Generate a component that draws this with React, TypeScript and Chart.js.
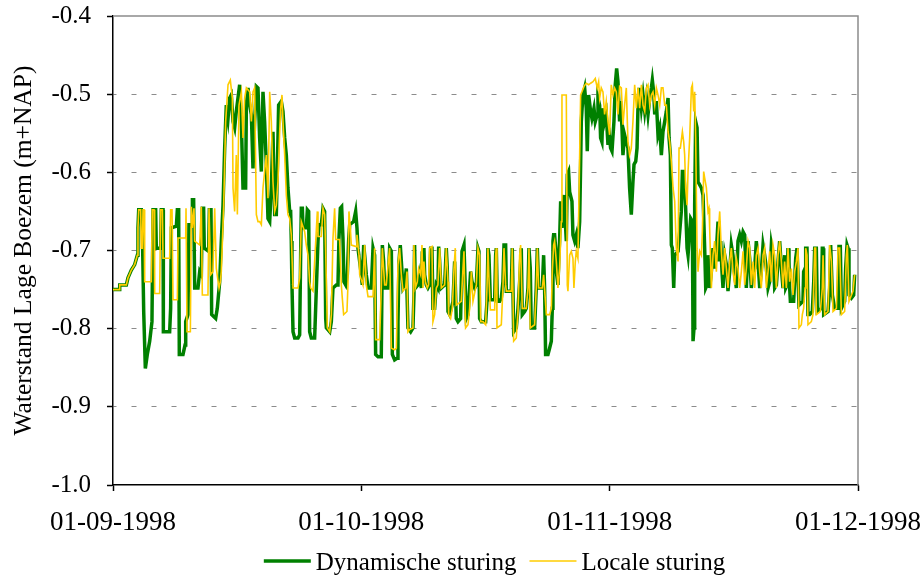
import { useEffect, useRef } from 'react';
import { Chart, registerables } from 'chart.js';

Chart.register(...registerables);

// x axis: days since 01-09-1998, axis runs to 01-12-1998 (day 91)
const xTickLabels = ['01-09-1998', '01-10-1998', '01-11-1998', '01-12-1998'];
const yAxisTitle = 'Waterstand Lage Boezem (m+NAP)';
const seriesNames = ['Dynamische sturing', 'Locale sturing'];

// [day, water level in m+NAP]
const dynamischeSturing: [number, number][] = [
  [0, -0.75], [0.82, -0.75], [0.82, -0.744], [1.63, -0.744], [1.83, -0.735], [2.24, -0.725], [2.65, -0.718], [2.97, -0.706],
  [3.05, -0.671], [3.14, -0.648], [3.46, -0.648], [3.58, -0.671], [3.75, -0.778], [3.95, -0.851], [4.19, -0.833], [4.48, -0.816],
  [4.76, -0.791], [4.89, -0.648], [5.21, -0.648], [5.29, -0.697], [5.82, -0.697], [5.9, -0.648], [6.11, -0.648], [6.15, -0.804],
  [6.92, -0.804], [7.04, -0.774], [7.13, -0.671], [7.74, -0.669], [7.86, -0.648], [8.02, -0.648], [8.1, -0.833], [8.55, -0.833],
  [8.8, -0.821], [8.88, -0.791], [9.16, -0.782], [9.28, -0.667], [9.69, -0.667], [9.7, -0.635], [9.85, -0.635], [9.98, -0.748],
  [10.38, -0.748], [10.59, -0.727], [10.79, -0.731], [10.91, -0.646], [11.07, -0.646], [11.15, -0.697], [11.68, -0.701], [11.77, -0.648],
  [11.97, -0.648], [12.05, -0.782], [12.54, -0.787], [12.74, -0.774], [13.03, -0.74], [13.23, -0.688], [13.44, -0.642], [13.64, -0.569],
  [13.84, -0.514], [14.05, -0.531], [14.25, -0.505], [14.45, -0.501], [14.66, -0.535], [14.86, -0.543], [15.06, -0.522], [15.47, -0.488],
  [15.68, -0.535], [15.88, -0.62], [16.2, -0.62], [16.29, -0.514], [16.49, -0.492], [16.69, -0.514], [16.9, -0.526], [17.1, -0.595],
  [17.3, -0.535], [17.51, -0.49], [17.71, -0.492], [17.91, -0.556], [18.12, -0.599], [18.32, -0.497], [18.52, -0.535], [18.73, -0.59],
  [18.93, -0.659], [19.14, -0.663], [19.34, -0.62], [19.54, -0.548], [19.75, -0.654], [19.95, -0.654], [20.07, -0.599], [20.23, -0.514],
  [20.56, -0.509], [20.76, -0.522], [20.97, -0.556], [21.17, -0.578], [21.37, -0.62], [21.58, -0.65], [21.7, -0.65], [21.78, -0.688],
  [21.86, -0.744], [21.99, -0.804], [22.19, -0.812], [22.6, -0.812], [22.8, -0.808], [22.92, -0.706], [23.0, -0.646], [23.13, -0.646],
  [23.21, -0.671], [23.61, -0.671], [23.74, -0.648], [23.9, -0.65], [24.02, -0.804], [24.22, -0.812], [24.63, -0.812], [24.84, -0.748],
  [25.04, -0.688], [25.16, -0.667], [25.45, -0.667], [25.65, -0.646], [25.85, -0.65], [25.98, -0.787], [26.06, -0.799], [26.47, -0.804],
  [26.67, -0.791], [26.87, -0.748], [27.28, -0.744], [27.48, -0.744], [27.6, -0.684], [27.77, -0.646], [27.93, -0.644], [28.09, -0.684],
  [28.21, -0.74], [28.42, -0.744], [28.62, -0.731], [28.78, -0.688], [28.91, -0.667], [29.39, -0.663], [29.64, -0.65], [29.8, -0.671],
  [29.92, -0.697], [30.13, -0.714], [30.33, -0.731], [30.45, -0.744], [30.62, -0.693], [30.74, -0.706], [30.94, -0.731], [31.15, -0.748],
  [31.55, -0.748], [31.76, -0.697], [31.96, -0.706], [32.08, -0.833], [32.37, -0.836], [32.77, -0.836], [32.9, -0.693], [33.06, -0.714],
  [33.18, -0.748], [33.59, -0.748], [33.79, -0.697], [34.0, -0.701], [34.12, -0.833], [34.4, -0.84], [34.69, -0.838], [34.81, -0.791],
  [34.93, -0.714], [35.09, -0.693], [35.3, -0.727], [35.42, -0.748], [35.62, -0.744], [35.83, -0.723], [36.03, -0.799], [36.36, -0.804],
  [36.64, -0.799], [36.76, -0.757], [36.84, -0.693], [36.93, -0.748], [37.25, -0.744], [37.46, -0.731], [37.66, -0.748], [37.78, -0.701],
  [37.86, -0.714], [37.98, -0.697], [38.07, -0.731], [38.27, -0.744], [38.47, -0.748], [38.68, -0.744], [38.8, -0.697], [38.96, -0.697],
  [39.08, -0.774], [39.29, -0.774], [39.49, -0.744], [39.69, -0.748], [39.78, -0.695], [39.9, -0.714], [40.02, -0.74], [40.1, -0.748],
  [40.51, -0.744], [40.71, -0.697], [40.83, -0.723], [40.92, -0.778], [41.12, -0.782], [41.32, -0.774], [41.53, -0.765], [41.73, -0.714],
  [41.85, -0.757], [41.93, -0.787], [42.14, -0.791], [42.46, -0.787], [42.63, -0.701], [42.87, -0.693], [43.03, -0.748], [43.16, -0.787],
  [43.36, -0.782], [43.56, -0.748], [43.68, -0.727], [43.85, -0.74], [44.17, -0.748], [44.38, -0.744], [44.58, -0.697], [44.7, -0.701],
  [44.78, -0.787], [44.99, -0.791], [45.52, -0.791], [45.68, -0.765], [45.8, -0.697], [45.92, -0.706], [46.09, -0.763], [46.62, -0.763],
  [46.74, -0.706], [46.82, -0.697], [46.94, -0.765], [47.23, -0.765], [47.43, -0.761], [47.63, -0.74], [47.76, -0.693], [47.96, -0.693],
  [48.04, -0.752], [48.65, -0.752], [48.77, -0.697], [48.94, -0.804], [49.26, -0.799], [49.47, -0.774], [49.67, -0.74], [49.87, -0.697],
  [49.99, -0.782], [50.28, -0.778], [50.48, -0.774], [50.69, -0.748], [50.81, -0.697], [50.97, -0.723], [51.09, -0.799], [51.5, -0.799],
  [51.7, -0.748], [51.83, -0.697], [51.99, -0.748], [52.44, -0.748], [52.6, -0.706], [52.72, -0.748], [52.84, -0.833], [53.13, -0.833],
  [53.33, -0.825], [53.54, -0.816], [53.66, -0.774], [53.74, -0.688], [53.82, -0.68], [53.94, -0.68], [54.07, -0.697], [54.15, -0.727],
  [54.35, -0.744], [54.47, -0.706], [54.55, -0.688], [54.68, -0.637], [54.76, -0.642], [54.84, -0.671], [54.96, -0.646], [55.08, -0.629],
  [55.25, -0.663], [55.37, -0.688], [55.49, -0.603], [55.65, -0.599], [55.78, -0.625], [56.06, -0.637], [56.18, -0.68], [56.39, -0.688],
  [56.59, -0.68], [56.79, -0.697], [57.0, -0.663], [57.12, -0.59], [57.2, -0.535], [57.4, -0.501], [57.61, -0.492], [57.81, -0.518],
  [57.93, -0.573], [58.1, -0.501], [58.34, -0.522], [58.5, -0.531], [58.75, -0.518], [58.91, -0.535], [59.15, -0.526], [59.24, -0.505],
  [59.44, -0.514], [59.56, -0.556], [59.72, -0.561], [59.85, -0.518], [60.05, -0.535], [60.25, -0.526], [60.46, -0.565], [60.54, -0.543],
  [60.78, -0.569], [60.95, -0.573], [61.19, -0.535], [61.35, -0.488], [61.52, -0.467], [61.68, -0.484], [61.88, -0.535], [62.0, -0.509],
  [62.17, -0.543], [62.29, -0.578], [62.49, -0.552], [62.7, -0.561], [62.9, -0.569], [63.1, -0.62], [63.31, -0.654], [63.51, -0.612],
  [63.64, -0.59], [63.85, -0.586], [64.01, -0.569], [64.13, -0.514], [64.25, -0.492], [64.42, -0.505], [64.54, -0.518], [64.74, -0.501],
  [64.95, -0.522], [65.15, -0.505], [65.35, -0.526], [65.56, -0.505], [65.76, -0.492], [65.88, -0.482], [66.04, -0.497], [66.17, -0.526],
  [66.37, -0.509], [66.57, -0.552], [66.78, -0.543], [66.98, -0.578], [67.18, -0.548], [67.39, -0.535], [67.59, -0.522], [67.8, -0.505],
  [67.92, -0.556], [68.08, -0.578], [68.2, -0.693], [68.32, -0.697], [68.49, -0.748], [68.61, -0.706], [69.02, -0.701], [69.22, -0.676],
  [69.42, -0.65], [69.55, -0.599], [69.71, -0.599], [69.83, -0.62], [69.95, -0.646], [70.12, -0.697], [70.24, -0.706], [70.44, -0.676],
  [70.56, -0.659], [70.77, -0.663], [70.85, -0.816], [70.97, -0.799], [71.05, -0.642], [71.17, -0.535], [71.34, -0.543], [71.46, -0.612],
  [71.87, -0.62], [72.07, -0.629], [72.27, -0.697], [72.4, -0.748], [72.56, -0.744], [72.68, -0.706], [72.88, -0.748], [73.09, -0.727],
  [73.29, -0.697], [73.49, -0.723], [73.7, -0.701], [73.9, -0.663], [74.02, -0.714], [74.23, -0.688], [74.39, -0.727], [74.51, -0.748],
  [74.72, -0.706], [74.92, -0.718], [75.12, -0.752], [75.33, -0.727], [75.53, -0.693], [75.73, -0.706], [75.94, -0.731], [76.14, -0.748],
  [76.34, -0.688], [76.55, -0.68], [76.75, -0.688], [76.96, -0.676], [77.16, -0.68], [77.36, -0.748], [77.57, -0.688], [77.77, -0.71],
  [77.97, -0.748], [78.18, -0.727], [78.38, -0.723], [78.58, -0.688], [78.79, -0.714], [78.99, -0.748], [79.19, -0.727], [79.4, -0.693],
  [79.6, -0.706], [79.81, -0.723], [80.01, -0.748], [80.21, -0.74], [80.42, -0.693], [80.62, -0.706], [80.82, -0.748], [81.03, -0.744],
  [81.23, -0.714], [81.43, -0.688], [81.64, -0.723], [81.84, -0.748], [82.04, -0.706], [82.17, -0.748], [82.33, -0.744], [82.45, -0.697],
  [82.57, -0.714], [82.65, -0.748], [82.74, -0.765], [83.14, -0.765], [83.39, -0.71], [83.55, -0.697], [83.67, -0.697], [83.79, -0.77],
  [84.28, -0.765], [84.36, -0.727], [84.53, -0.723], [84.61, -0.697], [84.77, -0.697], [84.89, -0.782], [85.1, -0.782], [85.42, -0.778],
  [85.59, -0.74], [85.71, -0.697], [85.91, -0.697], [86.03, -0.778], [86.52, -0.774], [86.64, -0.697], [86.73, -0.697], [86.81, -0.782],
  [87.34, -0.778], [87.54, -0.748], [87.66, -0.693], [87.87, -0.757], [88.15, -0.774], [88.56, -0.774], [88.68, -0.695], [88.84, -0.695],
  [88.97, -0.774], [89.37, -0.765], [89.49, -0.723], [89.66, -0.693], [89.78, -0.697], [89.9, -0.757], [90.19, -0.761], [90.47, -0.757],
  [90.59, -0.731],
];

const localeSturing: [number, number][] = [
  [0, -0.75], [0.82, -0.75], [0.82, -0.744], [1.63, -0.744], [1.83, -0.735], [2.24, -0.725], [2.65, -0.718], [2.97, -0.706],
  [3.05, -0.671], [3.14, -0.648], [3.38, -0.648], [3.46, -0.697], [3.58, -0.697], [3.67, -0.648], [3.79, -0.648], [3.87, -0.74],
  [4.68, -0.74], [4.8, -0.648], [5.01, -0.648], [5.09, -0.755], [5.7, -0.755], [5.82, -0.648], [6.03, -0.648], [6.11, -0.71],
  [6.92, -0.71], [7.04, -0.648], [7.21, -0.648], [7.33, -0.763], [7.86, -0.763], [7.94, -0.684], [8.88, -0.684], [8.92, -0.646],
  [9.0, -0.646], [9.04, -0.804], [9.45, -0.804], [9.57, -0.644], [9.69, -0.671], [9.89, -0.646], [9.98, -0.688], [10.59, -0.693],
  [10.79, -0.644], [10.91, -0.757], [11.6, -0.757], [11.73, -0.646], [11.93, -0.731], [12.21, -0.727], [12.42, -0.646], [12.62, -0.723],
  [12.95, -0.748], [13.11, -0.74], [13.23, -0.727], [13.52, -0.642], [13.76, -0.535], [14.05, -0.488], [14.33, -0.482], [14.58, -0.505],
  [14.66, -0.62], [14.86, -0.65], [15.06, -0.578], [15.19, -0.654], [15.39, -0.514], [15.68, -0.497], [15.88, -0.556], [16.08, -0.505],
  [16.29, -0.492], [16.69, -0.497], [16.9, -0.535], [17.1, -0.497], [17.3, -0.492], [17.51, -0.654], [17.71, -0.663], [17.91, -0.663],
  [18.12, -0.667], [18.32, -0.62], [18.52, -0.599], [18.73, -0.578], [18.93, -0.633], [19.14, -0.497], [19.34, -0.535], [19.54, -0.612],
  [19.75, -0.65], [19.95, -0.642], [20.15, -0.612], [20.36, -0.548], [20.48, -0.518], [20.64, -0.501], [20.76, -0.535], [20.97, -0.578],
  [21.17, -0.629], [21.37, -0.654], [21.58, -0.659], [21.78, -0.68], [21.99, -0.748], [22.6, -0.748], [22.8, -0.735], [23.0, -0.663],
  [23.41, -0.676], [23.61, -0.693], [23.82, -0.706], [24.02, -0.74], [24.14, -0.748], [24.43, -0.752], [24.63, -0.714], [24.96, -0.65],
  [25.04, -0.682], [25.45, -0.682], [25.65, -0.646], [25.85, -0.654], [25.98, -0.701], [26.18, -0.799], [26.47, -0.804], [26.67, -0.782],
  [26.87, -0.684], [27.07, -0.646], [27.2, -0.686], [27.68, -0.686], [27.89, -0.744], [28.01, -0.761], [28.17, -0.782], [28.58, -0.778],
  [28.7, -0.744], [28.82, -0.65], [28.99, -0.671], [29.11, -0.693], [29.72, -0.695], [29.8, -0.68], [30.05, -0.706], [30.13, -0.731],
  [30.53, -0.744], [30.74, -0.693], [30.94, -0.744], [31.15, -0.759], [31.76, -0.759], [31.96, -0.697], [32.08, -0.814], [32.57, -0.814],
  [32.77, -0.748], [32.9, -0.697], [33.18, -0.744], [33.38, -0.744], [33.79, -0.697], [34.0, -0.825], [34.4, -0.827], [34.61, -0.825],
  [34.81, -0.718], [35.01, -0.697], [35.22, -0.731], [35.42, -0.752], [35.75, -0.748], [35.91, -0.727], [36.03, -0.804], [36.23, -0.801],
  [36.64, -0.799], [36.76, -0.693], [36.93, -0.748], [37.17, -0.74], [37.33, -0.723], [37.58, -0.731], [37.74, -0.693], [37.86, -0.748],
  [37.98, -0.714], [38.15, -0.74], [38.39, -0.748], [38.55, -0.744], [38.68, -0.697], [38.96, -0.695], [39.08, -0.791], [39.29, -0.782],
  [39.49, -0.748], [39.69, -0.744], [39.9, -0.697], [40.1, -0.748], [40.51, -0.744], [40.71, -0.697], [40.92, -0.74], [41.0, -0.782],
  [41.24, -0.787], [41.45, -0.774], [41.65, -0.723], [41.81, -0.697], [41.93, -0.77], [42.54, -0.765], [42.75, -0.723], [42.87, -0.701],
  [42.95, -0.748], [43.07, -0.799], [43.36, -0.795], [43.56, -0.774], [43.77, -0.727], [43.97, -0.765], [44.38, -0.744], [44.58, -0.697],
  [44.78, -0.706], [44.91, -0.791], [45.19, -0.791], [45.52, -0.795], [45.68, -0.748], [45.8, -0.697], [45.92, -0.735], [46.09, -0.776],
  [46.62, -0.776], [46.74, -0.706], [46.82, -0.697], [46.9, -0.799], [47.43, -0.795], [47.63, -0.748], [47.76, -0.697], [47.96, -0.744],
  [48.04, -0.752], [48.65, -0.752], [48.77, -0.697], [48.94, -0.816], [49.26, -0.812], [49.47, -0.778], [49.67, -0.706], [49.79, -0.693],
  [49.99, -0.774], [50.48, -0.774], [50.69, -0.748], [50.81, -0.697], [50.97, -0.799], [51.5, -0.795], [51.7, -0.748], [51.83, -0.697],
  [51.99, -0.748], [52.44, -0.748], [52.6, -0.731], [52.93, -0.782], [53.33, -0.782], [53.54, -0.774], [53.66, -0.727], [53.82, -0.693],
  [53.94, -0.688], [54.15, -0.714], [54.35, -0.748], [54.55, -0.723], [54.76, -0.663], [54.84, -0.501], [55.37, -0.501], [55.49, -0.744],
  [55.57, -0.752], [55.78, -0.706], [55.98, -0.701], [56.18, -0.71], [56.3, -0.748], [56.47, -0.714], [56.59, -0.701], [56.79, -0.71],
  [57.0, -0.578], [57.12, -0.501], [57.28, -0.497], [57.53, -0.49], [57.81, -0.486], [58.1, -0.488], [58.34, -0.486], [58.63, -0.484],
  [58.91, -0.48], [59.15, -0.492], [59.32, -0.484], [59.44, -0.505], [59.64, -0.492], [59.85, -0.497], [60.05, -0.526], [60.25, -0.509],
  [60.46, -0.535], [60.66, -0.552], [60.86, -0.488], [61.07, -0.501], [61.27, -0.492], [61.48, -0.497], [61.68, -0.526], [61.88, -0.49],
  [62.09, -0.492], [62.29, -0.539], [62.49, -0.514], [62.7, -0.492], [62.9, -0.561], [63.1, -0.578], [63.31, -0.569], [63.51, -0.535],
  [63.72, -0.488], [63.93, -0.518], [64.13, -0.492], [64.33, -0.518], [64.54, -0.488], [64.74, -0.514], [64.95, -0.522], [65.15, -0.492],
  [65.35, -0.488], [65.56, -0.514], [65.76, -0.501], [65.96, -0.497], [66.17, -0.514], [66.37, -0.492], [66.57, -0.501], [66.78, -0.514],
  [66.98, -0.492], [67.18, -0.492], [67.39, -0.514], [67.59, -0.514], [67.8, -0.548], [68.0, -0.561], [68.2, -0.586], [68.41, -0.62],
  [68.61, -0.637], [68.81, -0.697], [69.02, -0.714], [69.14, -0.569], [69.3, -0.569], [69.55, -0.548], [69.71, -0.561], [69.83, -0.578],
  [69.95, -0.62], [70.12, -0.642], [70.24, -0.599], [70.44, -0.556], [70.65, -0.492], [70.77, -0.488], [70.93, -0.522], [71.05, -0.497],
  [71.17, -0.556], [71.34, -0.697], [71.46, -0.727], [71.66, -0.701], [71.87, -0.706], [71.99, -0.676], [72.15, -0.599], [72.27, -0.607],
  [72.48, -0.62], [72.68, -0.65], [72.8, -0.646], [72.88, -0.671], [73.09, -0.748], [73.29, -0.706], [73.49, -0.688], [73.7, -0.727],
  [73.9, -0.68], [74.11, -0.65], [74.31, -0.701], [74.51, -0.731], [74.72, -0.697], [74.92, -0.723], [75.12, -0.748], [75.33, -0.714],
  [75.53, -0.697], [75.73, -0.727], [75.94, -0.744], [76.14, -0.71], [76.34, -0.723], [76.55, -0.748], [76.75, -0.727], [76.96, -0.701],
  [77.16, -0.744], [77.36, -0.723], [77.57, -0.688], [77.77, -0.697], [77.97, -0.744], [78.18, -0.714], [78.38, -0.748], [78.58, -0.706],
  [78.79, -0.697], [78.99, -0.727], [79.19, -0.748], [79.4, -0.706], [79.6, -0.697], [79.81, -0.748], [80.01, -0.727], [80.21, -0.701],
  [80.42, -0.74], [80.62, -0.693], [80.82, -0.706], [81.03, -0.748], [81.23, -0.706], [81.43, -0.688], [81.64, -0.714], [81.84, -0.748],
  [82.04, -0.714], [82.25, -0.748], [82.45, -0.697], [82.65, -0.74], [82.86, -0.723], [83.06, -0.757], [83.27, -0.727], [83.47, -0.714],
  [83.67, -0.697], [83.79, -0.799], [84.08, -0.795], [84.2, -0.782], [84.36, -0.774], [84.53, -0.748], [84.61, -0.697], [84.77, -0.706],
  [84.89, -0.795], [85.3, -0.791], [85.5, -0.782], [85.71, -0.697], [85.83, -0.697], [85.91, -0.782], [86.4, -0.778], [86.64, -0.748],
  [86.73, -0.706], [86.93, -0.782], [87.34, -0.778], [87.54, -0.693], [87.75, -0.714], [87.95, -0.778], [88.36, -0.774], [88.56, -0.697],
  [88.76, -0.697], [88.97, -0.782], [89.37, -0.778], [89.58, -0.706], [89.7, -0.693], [89.9, -0.765], [90.39, -0.752], [90.59, -0.731],
];

const SERIF = '"Liberation Serif", "Times New Roman", Times, serif';
const GREEN = '#008000';
const YELLOW = '#FFCC00';

// Plot-area frame (top and right edges) drawn in grey
const framePlugin = {
  id: 'plotFrame',
  beforeDatasetsDraw(chart: any) {
    const { ctx, chartArea } = chart;
    ctx.save();
    ctx.strokeStyle = '#8c8c8c';
    ctx.lineWidth = 1.5;
    ctx.beginPath();
    ctx.moveTo(chartArea.left, chartArea.top);
    ctx.lineTo(chartArea.right, chartArea.top);
    ctx.lineTo(chartArea.right, chartArea.bottom);
    ctx.stroke();
    ctx.restore();
  },
};

// Legend below the x-axis labels
const bottomLegendPlugin = {
  id: 'bottomLegend',
  afterDraw(chart: any) {
    const { ctx, chartArea } = chart;
    const items = chart.data.datasets
      .slice()
      .sort((a: any, b: any) => a.legendIndex - b.legendIndex);
    ctx.save();
    ctx.font = `25px ${SERIF}`;
    ctx.textBaseline = 'alphabetic';
    ctx.fillStyle = '#000';
    const sample = 47;
    const gapText = 5;
    const gapItem = 13;
    let total = 0;
    items.forEach((ds: any, i: number) => {
      total += sample + gapText + ctx.measureText(ds.label).width + (i < items.length - 1 ? gapItem : 0);
    });
    let x = (chartArea.left + chartArea.right) / 2 + 9 - total / 2;
    const lineY = 561;
    const textY = 570;
    items.forEach((ds: any) => {
      ctx.strokeStyle = ds.borderColor;
      ctx.lineWidth = ds.borderWidth;
      ctx.beginPath();
      ctx.moveTo(x, lineY);
      ctx.lineTo(x + sample, lineY);
      ctx.stroke();
      x += sample + gapText;
      ctx.fillText(ds.label, x, textY);
      x += ctx.measureText(ds.label).width + gapItem;
    });
    ctx.restore();
  },
};

export default function App() {
  const canvasRef = useRef<HTMLCanvasElement | null>(null);

  useEffect(() => {
    const canvas = canvasRef.current;
    if (!canvas) return;
    const xTickValues = xTickLabels.map((_, i) => (91 * i) / (xTickLabels.length - 1));

    const chart = new Chart(canvas, {
      type: 'line',
      data: {
        datasets: [
          {
            label: seriesNames[1],
            legendIndex: 1,
            data: localeSturing.map(([x, y]) => ({ x, y })),
            borderColor: YELLOW,
            borderWidth: 1.6,
            pointRadius: 0,
            tension: 0,
            fill: false,
            order: 1,
          } as any,
          {
            label: seriesNames[0],
            legendIndex: 0,
            data: dynamischeSturing.map(([x, y]) => ({ x, y })),
            borderColor: GREEN,
            borderWidth: 3.5,
            pointRadius: 0,
            tension: 0,
            fill: false,
            order: 2,
          } as any,
        ],
      },
      options: {
        responsive: false,
        animation: false,
        devicePixelRatio: 1,
        layout: { padding: { left: 0, right: 65, top: 16, bottom: 0 } },
        plugins: {
          legend: { display: false },
          tooltip: { enabled: false },
        },
        scales: {
          x: {
            type: 'linear',
            min: 0,
            max: 91,
            afterBuildTicks: (scale: any) => {
              scale.ticks = xTickValues.map((value) => ({ value }));
            },
            afterFit: (scale: any) => {
              scale.height = 92;
              scale.paddingLeft = 0;
              scale.paddingRight = 0;
            },
            ticks: {
              autoSkip: false,
              maxRotation: 0,
              padding: 16,
              color: '#000',
              font: { family: SERIF, size: 27 },
              callback: (_v: any, i: number) => xTickLabels[i] ?? '',
            },
            grid: {
              drawOnChartArea: false,
              drawTicks: true,
              tickLength: 6,
              tickColor: '#000',
              tickWidth: 1.5,
            },
            border: { display: true, color: '#000', width: 1.5 },
          },
          y: {
            type: 'linear',
            min: -1.0,
            max: -0.4,
            afterFit: (scale: any) => {
              scale.width = 113;
              scale.paddingTop = 0;
              scale.paddingBottom = 0;
            },
            ticks: {
              stepSize: 0.1,
              padding: 16,
              color: '#000',
              font: { family: SERIF, size: 25 },
              callback: (v: any) => Number(v).toFixed(1),
            },
            grid: {
              drawOnChartArea: true,
              drawTicks: true,
              tickLength: 6,
              tickColor: '#000',
              tickWidth: 1.5,
              lineWidth: 1,
              color: (c: any) => {
                const v = c.tick ? c.tick.value : 0;
                return v > -0.45 || v < -0.95 ? 'rgba(0,0,0,0)' : '#8c8c8c';
              },
            },
            border: { display: true, color: '#000', width: 1.5, dash: [5, 15], dashOffset: 2 },
            title: {
              display: true,
              text: yAxisTitle,
              color: '#000',
              font: { family: SERIF, size: 25.5 },
              padding: { top: 9, bottom: 0 },
            },
          },
        },
      },
      plugins: [framePlugin, bottomLegendPlugin],
    });

    return () => chart.destroy();
  }, []);

  return (
    <div style={{ position: 'absolute', left: 0, top: 0, width: 923, height: 577, background: '#fff' }}>
      <canvas ref={canvasRef} width={923} height={577} style={{ display: 'block' }} />
    </div>
  );
}
